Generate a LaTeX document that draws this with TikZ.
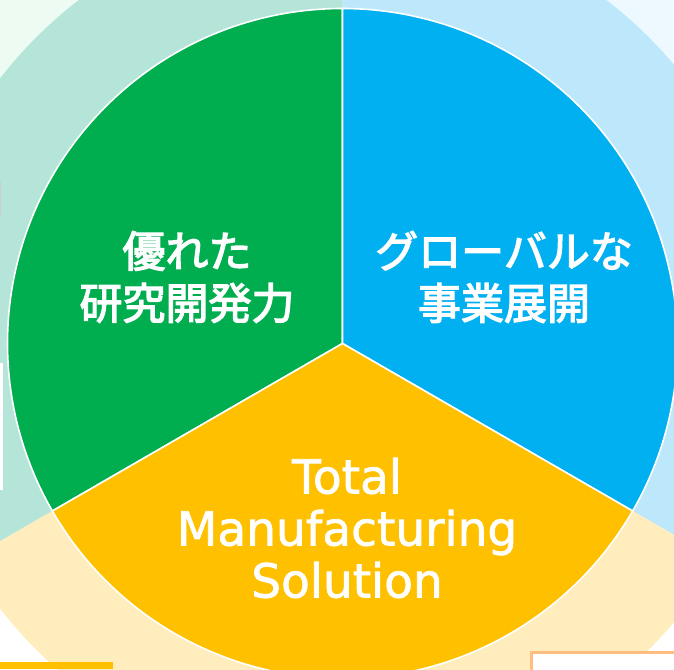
\documentclass[tikz,border=0pt]{standalone}
\usepackage{fontspec}
\setmainfont{Noto Sans CJK JP}[FakeBold=3]
\newfontfamily\latinfont{DejaVu Sans}[FakeBold=1.5]
\definecolor{pieGreen}{HTML}{00AD4F}
\definecolor{pieBlue}{HTML}{00B0F0}
\definecolor{pieYellow}{HTML}{FFC000}
\definecolor{ringGreen}{HTML}{B4E5D8}
\definecolor{ringBlue}{HTML}{BDE7FB}
\definecolor{ringYellow}{HTML}{FFEDBD}
\definecolor{cornerMint}{HTML}{EEFBF3}
\definecolor{cornerSky}{HTML}{EEF9FF}
\definecolor{frameOrange}{HTML}{FFBE80}
\tikzset{
  sector/.style={draw=white,line width=1.6pt,line join=round},
  label/.style={text=white,align=center,font=\fontsize{43}{52}\selectfont},
  latinlabel/.style={label,font=\latinfont\fontsize{47}{52}\selectfont},
}

\begin{document}
\begin{tikzpicture}[x=1pt,y=1pt]
  \useasboundingbox (0,0) rectangle (674,669);
  \clip (0,0) rectangle (674,669);
  \coordinate (c) at (342.5,325.5);

  % background corners
  \fill[cornerMint] (0,669) rectangle (342.5,325.5);
  \fill[cornerSky] (342.5,669) rectangle (674,325.5);

  % faded outer ring
  \foreach \start/\stop/\col in {90/210/ringGreen, -30/90/ringBlue, 210/330/ringYellow}
    \fill[\col] (c) -- ++(\start:433) arc[start angle=\start, end angle=\stop, radius=433] -- cycle;

  % the three sectors
  \foreach \start/\stop/\col in {90/210/pieGreen, -30/90/pieBlue, 210/330/pieYellow}
    \path[sector,fill=\col] (c) -- ++(\start:335) arc[start angle=\start, end angle=\stop, radius=335] -- cycle;

  % labels
  \node[label] (research) at (187,392) {優れた\\研究開発力};
  \node[label] (global) at (504,392) {グローバルな\\事業展開};
  \node[latinlabel] (total) at (347,141) {Total\\Manufacturing\\Solution};

  % bits at the edges
  \fill[pieYellow] (0,0) rectangle (113,7);
  \draw[frameOrange,line width=3pt,fill=white] (531.5,16.5) rectangle (690,-10);
  \fill[white] (0,179) rectangle (3,306);
  \fill[black!20] (0,452) rectangle (1,487);
\end{tikzpicture}
\end{document}
